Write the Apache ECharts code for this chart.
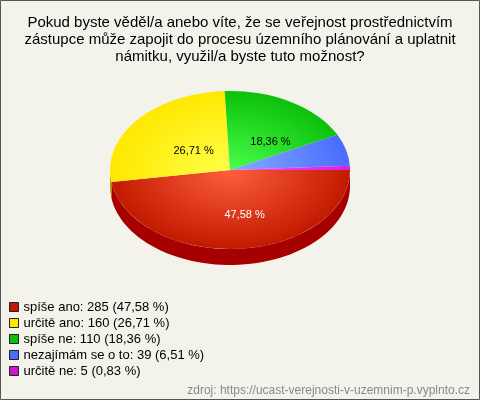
<!DOCTYPE html>
<html>
<head>
<meta charset="utf-8">
<script src="https://cdn.jsdelivr.net/npm/echarts@6/dist/echarts.min.js"></script>
<style>
  html, body { margin: 0; padding: 0; background: #f4f3eb; }
  #chart { width: 480px; height: 400px; }
</style>
</head>
<body>
<div id="chart"></div>
<script>
var titleText = 'Pokud byste věděl/a anebo víte, že se veřejnost prostřednictvím\nzástupce může zapojit do procesu územního plánování a uplatnit\nnámitku, využil/a byste tuto možnost?';
var sourceText = 'zdroj: https://ucast-verejnosti-v-uzemnim-p.vyplnto.cz';

var categories = ['spíše ano', 'určitě ano', 'spíše ne', 'nezajímám se o to', 'určitě ne'];
var values = [285, 160, 110, 39, 5];

// barvy: [střed, okraj, bok]
var colors = [
    ['#ff5e3e', '#c21a00', '#a60000'],
    ['#ffff48', '#ffe800', '#b8a000'],
    ['#48ff48', '#0cc00c', '#088808'],
    ['#86acff', '#4a6cff', '#2a44b0'],
    ['#ff50ff', '#d820e0', '#9010a0']
];
var legendColors = ['#c21a00', '#ffe800', '#0cc00c', '#4a6cff', '#c818d0'];

var total = values.reduce(function (a, b) { return a + b; }, 0);
function pct (v) {
    return (v / total * 100).toFixed(2).replace('.', ',') + ' %';
}

var cx = 230, cy = 170, rx = 120, ry = 79, depth = 16;

function angles (idx) {
    var before = 0;
    for (var i = 0; i < idx; i++) before += values[i];
    return [before / total * Math.PI * 2, (before + values[idx]) / total * Math.PI * 2];
}

function renderSide (params, api) {
    var idx = params.dataIndex;
    var a = angles(idx);
    var a0 = Math.max(a[0], 0), a1 = Math.min(a[1], Math.PI);
    if (a1 <= a0) return null;
    var pts = [], n = 60, i, t;
    for (i = 0; i <= n; i++) {
        t = a0 + (a1 - a0) * i / n;
        pts.push([cx + rx * Math.cos(t), cy + ry * Math.sin(t)]);
    }
    for (i = n; i >= 0; i--) {
        t = a0 + (a1 - a0) * i / n;
        pts.push([cx + rx * Math.cos(t), cy + depth + ry * Math.sin(t)]);
    }
    return {
        type: 'polygon',
        shape: { points: pts },
        style: { fill: colors[idx][2] }
    };
}

function renderTop (params, api) {
    var idx = params.dataIndex;
    var a = angles(idx);
    var children = [{
        type: 'sector',
        shape: { cx: cx, cy: cy, r: rx, r0: 0, startAngle: a[0], endAngle: a[1], clockwise: true },
        scaleY: ry / rx,
        originX: cx,
        originY: cy,
        style: {
            fill: {
                type: 'radial', x: cx, y: cy, r: rx, global: true,
                colorStops: [{ offset: 0, color: colors[idx][0] }, { offset: 1, color: colors[idx][1] }]
            }
        }
    }];
    var share = values[idx] / total;
    if (share > 0.1) {
        var mid = (a[0] + a[1]) / 2;
        children.push({
            type: 'text',
            style: {
                text: pct(values[idx]),
                x: cx + 0.5 * rx * Math.cos(mid) + 10,
                y: cy + 0.5 * ry * Math.sin(mid) + 6,
                fill: idx === 0 ? '#ffffff' : '#000000',
                font: '11px "Liberation Sans", Arial, sans-serif',
                align: 'center',
                verticalAlign: 'middle'
            }
        });
    }
    return { type: 'group', children: children };
}

var chart = echarts.init(document.getElementById('chart'));
var customData = values.map(function (v, i) { return { name: categories[i], value: [i, v] }; });

var option = {
    backgroundColor: '#f4f3eb',
    animation: false,
    title: [{
        text: titleText,
        left: 'center',
        top: 9,
        textStyle: {
            fontFamily: '"Liberation Sans", Arial, sans-serif',
            fontSize: 15,
            fontWeight: 'normal',
            color: '#000',
            lineHeight: 17
        }
    }, {
        text: sourceText,
        right: 5,
        top: 380,
        textStyle: {
            fontFamily: '"Liberation Sans", Arial, sans-serif',
            fontSize: 12,
            fontWeight: 'normal',
            color: '#888'
        }
    }],
    legend: {
        orient: 'vertical',
        left: 4,
        top: 294,
        itemWidth: 9,
        itemHeight: 9,
        itemGap: 0,
        icon: 'rect',
        data: categories,
        itemStyle: { borderColor: '#222', borderWidth: 1 },
        textStyle: {
            fontFamily: '"Liberation Sans", Arial, sans-serif',
            fontSize: 13,
            color: '#000',
            lineHeight: 16
        },
        formatter: function (name) {
            var i = categories.indexOf(name);
            return name + ': ' + values[i] + ' (' + pct(values[i]) + ')';
        }
    },
    graphic: [{
        type: 'rect',
        shape: { x: 0.5, y: 0.5, width: 479, height: 399 },
        style: { fill: 'none', stroke: '#555', lineWidth: 1 },
        z: 100
    }],
    series: [{
        // jen pro legendu
        type: 'pie',
        radius: [0, 0],
        silent: true,
        label: { show: false },
        labelLine: { show: false },
        data: categories.map(function (c, i) {
            return { name: c, value: values[i], itemStyle: { color: legendColors[i] } };
        })
    }, {
        type: 'custom',
        name: 'bok',
        coordinateSystem: 'none',
        silent: true,
        renderItem: renderSide,
        data: customData,
        z: 1
    }, {
        type: 'custom',
        name: 'vrch',
        coordinateSystem: 'none',
        silent: true,
        renderItem: renderTop,
        data: customData,
        z: 2
    }]
};
chart.setOption(option);
</script>
</body>
</html>
